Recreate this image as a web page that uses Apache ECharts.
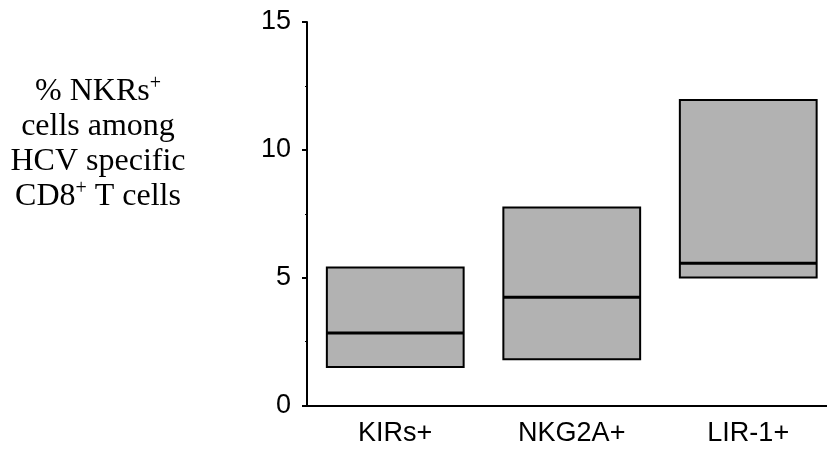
<!DOCTYPE html>
<html>
<head>
<meta charset="utf-8">
<script src="https://cdn.jsdelivr.net/npm/echarts@6/dist/echarts.min.js"></script>
<style>html,body{margin:0;padding:0;background:#fff;}#c{width:827px;height:452px;}</style>
</head>
<body>
<div id="c"></div>
<script>
const categories = ['KIRs+', 'NKG2A+', 'LIR-1+'];
const boxLow = [1.51, 1.81, 5.01];
const boxMedian = [2.84, 4.23, 5.56];
const boxHigh = [5.40, 7.74, 11.95];
const yTicks = [0, 5, 10, 15];

const chart = echarts.init(document.getElementById('c'));
const data = categories.map((c, i) => [i, boxLow[i], boxMedian[i], boxHigh[i]]);

chart.setOption({
  animation: false,
  backgroundColor: '#fff',
  grid: { left: 307, top: 22, height: 383.5, width: 529.5, containLabel: false, outerBoundsMode: 'none' },
  xAxis: {
    type: 'category',
    data: categories,
    boundaryGap: true,
    axisLine: { lineStyle: { color: '#000', width: 2 } },
    axisTick: { alignWithLabel: true, length: 3, lineStyle: { color: '#000', width: 1 } },
    axisLabel: { color: '#000', fontSize: 27, fontFamily: 'Arial, "Liberation Sans"', margin: 15 },
    splitLine: { show: false }
  },
  yAxis: {
    type: 'value',
    min: yTicks[0],
    max: yTicks[yTicks.length - 1],
    interval: 5,
    axisLine: { show: true, lineStyle: { color: '#000', width: 2 } },
    axisTick: { show: true, length: 5, lineStyle: { color: '#000', width: 2 } },
    minorTick: { show: true, splitNumber: 2, length: 2, lineStyle: { color: '#000', width: 1 } },
    axisLabel: { color: '#000', fontSize: 27, fontFamily: 'Arial, "Liberation Sans"', margin: 16 },
    splitLine: { show: false }
  },
  graphic: [{
    type: 'text',
    x: 98,
    y: 74,
    style: {
      text: '% NKRs{sup|+}\ncells among\nHCV specific\nCD8{sup|+} T cells',
      align: 'center',
      verticalAlign: 'top',
      fill: '#000',
      fontSize: 32,
      fontFamily: '"Liberation Serif", "Times New Roman", serif',
      lineHeight: 35,
      rich: {
        sup: { fontSize: 20, fontFamily: '"Liberation Serif", "Times New Roman", serif', lineHeight: 20, verticalAlign: 'top', fill: '#000' }
      }
    }
  }],
  series: [{
    type: 'custom',
    data: data,
    encode: { x: 0, y: [1, 2, 3] },
    renderItem: function (params, api) {
      const ci = api.value(0);
      const lo = api.coord([ci, api.value(1)]);
      const me = api.coord([ci, api.value(2)]);
      const hi = api.coord([ci, api.value(3)]);
      const bw = api.size([1, 0])[0] * 0.775;
      const x0 = lo[0] - bw / 2;
      return {
        type: 'group',
        children: [{
          type: 'rect',
          shape: { x: x0, y: hi[1], width: bw, height: lo[1] - hi[1] },
          style: { fill: '#b2b2b2', stroke: '#000', lineWidth: 2 }
        }, {
          type: 'line',
          shape: { x1: x0, y1: me[1], x2: x0 + bw, y2: me[1] },
          style: { stroke: '#000', lineWidth: 3 }
        }]
      };
    }
  }]
});
</script>
</body>
</html>
